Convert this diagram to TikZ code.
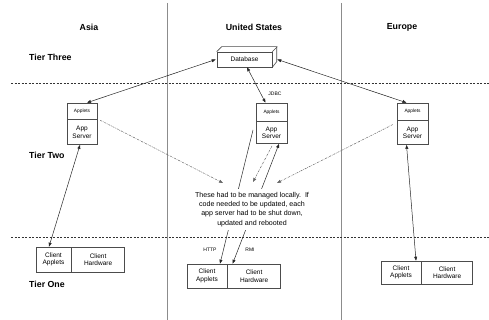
\documentclass[tikz,border=0pt]{standalone}
\usepackage{fontspec}
\setmainfont{Liberation Sans}
\usetikzlibrary{arrows.meta,calc,backgrounds}
\begin{document}
\begin{tikzpicture}[x=1pt,y=-1pt,
  hdr/.style={font=\fontsize{8.8}{10}\selectfont\bfseries, inner sep=0pt},
  tier/.style={font=\fontsize{8.8}{10}\selectfont\bfseries, inner sep=0pt, anchor=west},
  box/.style={draw=black!70, line width=0.6pt, inner sep=0pt, align=center, font=\fontsize{6.5}{7.5}\selectfont},
  small/.style={font=\fontsize{4.8}{6}\selectfont},
  lbl/.style={font=\fontsize{5}{6}\selectfont, inner sep=0pt},
  darr/.style={{Triangle[length=4pt,width=3pt]}-{Triangle[length=4pt,width=3pt]}, line width=0.5pt, draw=black!85},
  sarr/.style={-{Triangle[length=4pt,width=3pt]}, line width=0.5pt, draw=black!85},
  dd/.style={-{Triangle[length=4pt,width=3pt]}, line width=0.5pt, draw=black!60, dash pattern=on 2pt off 1pt on 0.6pt off 1pt},
  sep/.style={draw=black!45, line width=0.8pt},
  tierline/.style={draw=black!80, line width=0.5pt, dash pattern=on 2pt off 1.5pt}
]
\useasboundingbox (0,0) rectangle (489,320);

% column separators and tier lines
\coordinate (v1t) at (167,3); \coordinate (v1b) at (167,320);
\coordinate (v2t) at (341,3); \coordinate (v2b) at (341,320);
\draw[sep] (v1t) -- (v1b);
\draw[sep] (v2t) -- (v2b);
\coordinate (h1l) at (11,83); \coordinate (h1r) at (489,83);
\coordinate (h2l) at (11,237); \coordinate (h2r) at (489,237);
\draw[tierline] (h1l) -- (h1r);
\draw[tierline] (h2l) -- (h2r);

% headers
\node[hdr] (hAsia) at (89,27) {Asia};
\node[hdr] (hUS) at (254,27) {United States};
\node[hdr] (hEU) at (402,27) {Europe};
\node[tier] (t3) at (29,57) {Tier Three};
\node[tier] (t2) at (29,155) {Tier Two};
\node[tier] (t1) at (29,284) {Tier One};

% database (3D box)
\node[box, minimum width=55pt, minimum height=15pt, fill=white] (db) at (244.5,59.5) {Database};
\draw[draw=black!70, line width=0.6pt] (db.north west) -- ++(5,-5) -- ++(55,0) -- ++(0,15) -- (db.south east);
\draw[draw=black!70, line width=0.6pt] (db.north east) -- ++(5,-5);

% app servers
\node[box, small, minimum width=30pt, minimum height=16pt] (asA) at (82,111) {Applets};
\node[box, minimum width=30pt, minimum height=25pt, anchor=north] (asS) at (asA.south) {App\\Server};
\node[box, small, minimum width=31pt, minimum height=18pt] (usA) at (271.5,112) {Applets};
\node[box, minimum width=31pt, minimum height=22pt, anchor=north] (usS) at (usA.south) {App\\Server};
\node[box, small, minimum width=31pt, minimum height=17pt] (euA) at (412.5,111.5) {Applets};
\node[box, minimum width=31pt, minimum height=24pt, anchor=north] (euS) at (euA.south) {App\\Server};

% clients
\node[box, minimum width=35pt, minimum height=25pt] (caA) at (53.5,259.5) {Client\\Applets};
\node[box, minimum width=53pt, minimum height=25pt, anchor=west] (caH) at (caA.east) {Client\\Hardware};
\node[box, minimum width=40pt, minimum height=24pt] (cuA) at (207,276) {Client\\Applets};
\node[box, minimum width=53pt, minimum height=24pt, anchor=west] (cuH) at (cuA.east) {Client\\Hardware};
\node[box, minimum width=40pt, minimum height=23pt] (ceA) at (401,272.5) {Client\\Applets};
\node[box, minimum width=51pt, minimum height=23pt, anchor=west] (ceH) at (ceA.east) {Client\\Hardware};

% note
\node[fill=white, align=center, inner xsep=2pt, inner ysep=3pt, font=\fontsize{7.1}{9.2}\selectfont] (note) at (252,209.5)
 {These had to be managed locally.\ \ If\\ code needed to be updated, each\\ app server had to be shut down,\\ updated and rebooted};

% connectors
\draw[darr] ($(asA.north)+(5,0)$) -- ($(db.west)+(-1,0)$);
\draw[darr] ($(db.east)+(5,0)$) -- ($(euA.north)+(-6,0)$);
\draw[darr] ($(db.south)+(2.5,0)$) -- ($(usA.north)+(-6,0)$);
\node[lbl] (jdbc) at (275,94) {JDBC};
\draw[darr] ($(asS.south)+(-2,0)$) -- ($(caA.north)+(-4.5,0)$);
\draw[darr] ($(euS.south)+(-6,0)$) -- ($(ceA.north)+(15,0)$);

\begin{scope}[on background layer]
\coordinate (httpS) at (253,130);
\draw[sarr] (httpS) -- ($(cuA.north)+(13,0)$);
\draw[darr] ($(usS.south)+(7.5,0)$) -- ($(cuH.north)+(-21.5,0)$);
\end{scope}
\node[lbl] (http) at (210,250) {HTTP};
\node[lbl] (rmi) at (250,250) {RMI};

\coordinate (d1) at (223,183);
\coordinate (d2) at (253,182);
\coordinate (d3) at (277,183);
\draw[dd] ($(asA.south east)+(3,1)$) -- (d1);
\draw[dd] ($(usS.south)+(0.5,2)$) -- (d2);
\draw[dd] ($(euS.west)+(-4,-8)$) -- (d3);
\end{tikzpicture}
\end{document}
